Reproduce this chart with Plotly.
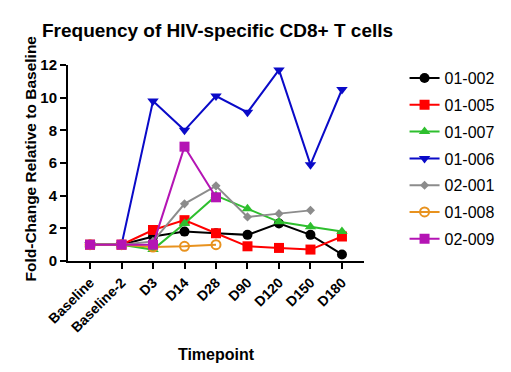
import plotly.graph_objects as go

timepoints = ["Baseline", "Baseline-2", "D3", "D14", "D28", "D90", "D120", "D150", "D180"]

s_01_002 = [1.0, 1.0, 1.5, 1.8, 1.7, 1.6, 2.3, 1.6, 0.4]
s_01_005 = [1.0, 1.0, 1.9, 2.5, 1.7, 0.9, 0.8, 0.7, 1.5]
s_01_007 = [1.0, 1.0, 0.7, 2.3, 4.0, 3.2, 2.4, 2.1, 1.8]
s_01_006 = [1.0, 1.0, 9.8, 8.0, 10.1, 9.1, 11.7, 5.9, 10.5]
s_02_001 = [1.0, 1.0, 1.2, 3.5, 4.6, 2.7, 2.9, 3.1, None]
s_01_008 = [1.0, 1.0, 0.85, 0.9, 1.0, None, None, None, None]
s_02_009 = [1.0, 1.0, 1.0, 7.0, 3.9, None, None, None, None]

series = [
    ("01-002", s_01_002, "#000000", "circle", 10),
    ("01-005", s_01_005, "#ff0000", "square", 10),
    ("01-007", s_01_007, "#2ebf2e", "triangle-up", 10),
    ("01-006", s_01_006, "#0a0ac8", "triangle-down", 10),
    ("02-001", s_02_001, "#8c8c8c", "diamond", 7),
    ("01-008", s_01_008, "#e8921e", "circle-open", 9),
    ("02-009", s_02_009, "#b414b4", "square", 10),
]

fig = go.Figure()
for name, vals, color, sym, size in series:
    fig.add_trace(go.Scatter(
        x=timepoints, y=vals, name=name, mode="lines+markers",
        legendgroup=name,
        line=dict(color=color, width=2),
        marker=dict(symbol=sym, size=size, color=color,
                    line=dict(color=color, width=2 if sym.endswith("open") else 0)),
    ))

font_family = "Liberation Sans, Arial, sans-serif"
fig.update_layout(
    width=511, height=372,
    margin=dict(l=68, r=144, t=65, b=111),
    paper_bgcolor="white", plot_bgcolor="white",
    font=dict(family=font_family, color="black"),
    title=dict(text="<b>Frequency of HIV-specific CD8+ T cells</b>",
               x=42/511, xanchor="left", y=1-30/372, yanchor="middle",
               font=dict(size=19, color="black")),
    showlegend=True,
    legend=dict(x=1.137, y=1.02, xanchor="left", yanchor="top",
                font=dict(size=16), tracegroupgap=3, itemwidth=30,
                maxheight=400, bgcolor="rgba(0,0,0,0)"),
    xaxis=dict(
        type="category", categoryorder="array", categoryarray=timepoints,
        tickvals=timepoints, ticktext=["<b>%s</b>" % t for t in timepoints],
        range=[-0.7, 8.7], showline=True, linecolor="black", linewidth=2,
        ticks="outside", ticklen=6, tickwidth=2, tickcolor="black",
        tickangle=-45, showgrid=False, zeroline=False,
        tickfont=dict(size=14),
        title=dict(text="<b>Timepoint</b>", font=dict(size=16), standoff=14),
    ),
    yaxis=dict(
        range=[0, 12], tickvals=[0, 2, 4, 6, 8, 10, 12],
        ticktext=["<b>%d</b>" % v for v in [0, 2, 4, 6, 8, 10, 12]],
        showline=True, linecolor="black", linewidth=2,
        ticks="outside", ticklen=6, tickwidth=2, tickcolor="black",
        showgrid=False, zeroline=False,
        tickfont=dict(size=15),
    ),
    annotations=[dict(
        text="<b>Fold-Change Relative to Baseline</b>", textangle=-90,
        xref="paper", yref="paper", x=(30 - 68) / 299, y=0.525,
        xanchor="center", yanchor="middle", showarrow=False,
        font=dict(size=15.5, color="black"),
    )],
)

fig.write_html("out.html", config={"displayModeBar": False},
               post_script="document.body.style.margin='0';document.body.style.overflow='hidden';")
